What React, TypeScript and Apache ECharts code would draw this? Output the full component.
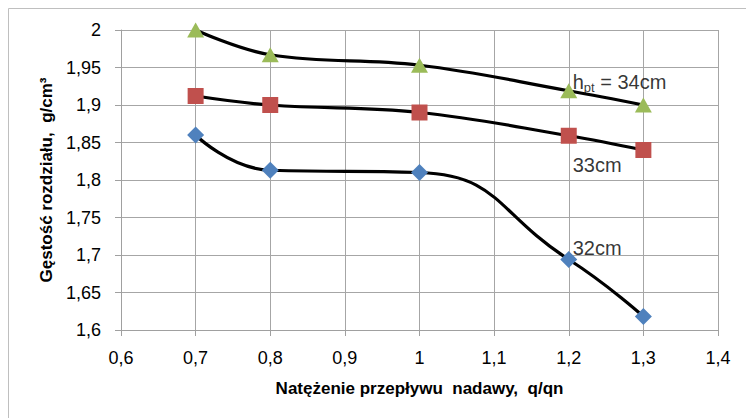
import React, { useEffect, useRef } from "react";
import * as echarts from "echarts";

const xValues = [0.7, 0.8, 1.0, 1.2, 1.3];
const series34 = [2.0, 1.967, 1.953, 1.919, 1.9];
const series33 = [1.912, 1.9, 1.89, 1.859, 1.84];
const series32 = [1.86, 1.813, 1.81, 1.694, 1.618];
const seriesNames = ["34cm", "33cm", "32cm"];
const xTitle = "Natężenie przepływu  nadawy,  q/qn";
const yTitle = "Gęstość rozdziału,  g/cm³";

const FONT = "'Liberation Sans', Arial, sans-serif";

export default function App() {
  const ref = useRef<HTMLDivElement>(null);
  useEffect(() => {
    if (!ref.current) return;
    const chart = echarts.init(ref.current, null, { renderer: "svg" });
    const fmt = (v: number) => String(Math.round(v * 100) / 100).replace(".", ",");
    const mk = (vals: number[]) => xValues.map((x, i) => [x, vals[i]]);
    const lineStyle = { color: "#000", width: 3.2 };
    chart.setOption({
      animation: false,
      backgroundColor: "#fff",
      textStyle: { fontFamily: FONT },
      graphic: [
        {
          type: "rect",
          shape: { x: 8.5, y: 8.5, width: 760, height: 440 },
          style: { fill: "none", stroke: "#bfbfbf", lineWidth: 1 },
          silent: true,
          z: -1,
        },
      ],
      grid: { left: 121, right: 28, top: 30, bottom: 88 },
      xAxis: {
        type: "value",
        min: 0.6,
        max: 1.4,
        interval: 0.1,
        name: xTitle,
        nameLocation: "middle",
        nameGap: 50,
        nameTextStyle: { fontFamily: FONT, fontSize: 17, fontWeight: "bold", color: "#000" },
        axisLine: { show: true, lineStyle: { color: "#a0a0a0", width: 1 } },
        axisTick: { show: true, length: 6, lineStyle: { color: "#a0a0a0" } },
        axisLabel: { formatter: fmt, fontSize: 18, color: "#000", margin: 19, fontFamily: FONT },
        splitLine: { show: true, lineStyle: { color: "#a6a6a6", width: 1 } },
      },
      yAxis: {
        type: "value",
        min: 1.6,
        max: 2.0,
        interval: 0.05,
        name: yTitle,
        nameLocation: "middle",
        nameGap: 64,
        nameTextStyle: { fontFamily: FONT, fontSize: 17, fontWeight: "bold", color: "#000" },
        axisLine: { show: true, lineStyle: { color: "#a0a0a0", width: 1 } },
        axisTick: { show: true, length: 6, lineStyle: { color: "#a0a0a0" } },
        axisLabel: { formatter: fmt, fontSize: 18, color: "#000", margin: 20, fontFamily: FONT },
        splitLine: { show: true, lineStyle: { color: "#a6a6a6", width: 1 } },
      },
      series: [
        {
          name: seriesNames[0],
          type: "line",
          data: mk(series34),
          smooth: 0.4,
          symbol: "triangle",
          symbolSize: [17, 15],
          itemStyle: { color: "#9bbb59" },
          lineStyle,
          z: 3,
        },
        {
          name: seriesNames[1],
          type: "line",
          data: mk(series33),
          smooth: 0.4,
          symbol: "rect",
          symbolSize: 16,
          itemStyle: { color: "#c0504d" },
          lineStyle,
          z: 3,
        },
        {
          name: seriesNames[2],
          type: "line",
          data: mk(series32),
          smooth: 0.5,
          symbol: "diamond",
          symbolSize: 17,
          itemStyle: { color: "#4f81bd" },
          lineStyle,
          z: 3,
        },
        {
          type: "scatter",
          silent: true,
          symbolSize: 0,
          z: 5,
          data: [
            {
              value: [1.2, 1.931],
              label: {
                show: true,
                position: "right",
                offset: [-1, 0],
                formatter: "{a|h}{s|pt}{a| = 34cm}",
                rich: {
                  a: { fontFamily: FONT, fontSize: 20, color: "#000" },
                  s: { fontFamily: FONT, fontSize: 13, color: "#000", verticalAlign: "bottom", padding: [12, 0, 0, 0] },
                },
              },
            },
            {
              value: [1.2, 1.82],
              label: { show: true, position: "right", offset: [-1, 0], formatter: "33cm", fontFamily: FONT, fontSize: 20, color: "#000" },
            },
            {
              value: [1.2, 1.709],
              label: { show: true, position: "right", offset: [-1, 0], formatter: "32cm", fontFamily: FONT, fontSize: 20, color: "#000" },
            },
          ],
        },
      ],
    });
    return () => chart.dispose();
  }, []);
  return (
    <div
      ref={ref}
      style={{ position: "fixed", left: 0, top: 0, width: 746, height: 418, background: "#fff" }}
    />
  );
}
